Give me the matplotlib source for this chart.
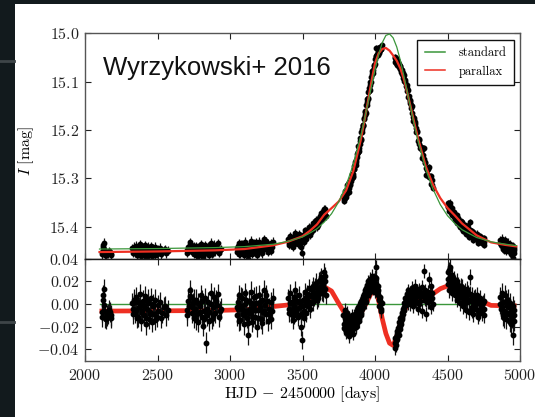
import numpy as np
import matplotlib
matplotlib.use('Agg')
import matplotlib.pyplot as plt
from matplotlib.patches import Rectangle
from matplotlib.lines import Line2D
from matplotlib.ticker import FuncFormatter, FixedLocator

plt.rcParams['font.family'] = 'serif'
plt.rcParams['font.serif'] = ['cmr10', 'DejaVu Serif']
plt.rcParams['mathtext.fontset'] = 'cm'
plt.rcParams['axes.unicode_minus'] = False

# model curves: HJD-2450000, I mag of the standard fit, parallax fit minus standard fit
t_model = [2100, 2500, 2900, 3100, 3300, 3400, 3500, 3550, 3600, 3650, 3700, 3750,
           3800, 3850, 3900, 3925, 3950, 3975, 4000, 4025, 4050, 4075, 4100, 4125,
           4150, 4175, 4200, 4225, 4250, 4275, 4300, 4350, 4400, 4450, 4500, 4550,
           4600, 4700, 4800, 4900, 4975]
mag_standard = [15.446, 15.445, 15.443, 15.441, 15.436, 15.430, 15.421, 15.413, 15.404,
                15.390, 15.373, 15.348, 15.315, 15.271, 15.214, 15.181, 15.146, 15.110,
                15.075, 15.044, 15.019, 15.004, 15.001, 15.009, 15.028, 15.056, 15.089,
                15.125, 15.160, 15.195, 15.226, 15.281, 15.322, 15.354, 15.377, 15.393,
                15.406, 15.422, 15.431, 15.436, 15.439]
res_parallax = [-0.0062, -0.0060, -0.0057, -0.0050, -0.0022, -0.0008, 0.0015, 0.0045,
                0.0090, 0.0152, 0.0115, 0.0005, -0.0100, -0.0140, -0.0085, -0.0030,
                0.0035, 0.0100, 0.0135, 0.0030, -0.0130, -0.0260, -0.0345, -0.0365,
                -0.0285, -0.0165, -0.0065, -0.0005, 0.0030, 0.0050, 0.0055, 0.0060,
                0.0090, 0.0135, 0.0160, 0.0165, 0.0130, 0.0045, -0.0012, -0.0015, -0.0015]

# observations by season: time and residual from the standard fit
t_s1 = [2118, 2122, 2126, 2130, 2134, 2140, 2150, 2160, 2172, 2182,
        2120, 2128, 2145, 2166, 2178]
r_s1 = [-0.011, 0.004, 0.008, 0.013, -0.006, -0.012, -0.010, -0.009, -0.007, -0.012,
        -0.007, -0.001, -0.013, -0.005, -0.010]
t_s2 = [2325, 2332, 2338, 2345, 2352, 2358, 2365, 2372, 2378, 2385, 2392, 2398, 2405,
        2412, 2418, 2425, 2432, 2440, 2447, 2455, 2462, 2470, 2478, 2486, 2495, 2505,
        2518, 2530, 2545, 2560, 2572,
        2328, 2341, 2355, 2368, 2381, 2395, 2408, 2422, 2436, 2451, 2466, 2482, 2500,
        2525, 2552]
r_s2 = [0.001, -0.004, 0.004, -0.008, 0.006, -0.012, 0.002, -0.003, 0.009, -0.015,
        -0.006, 0.003, -0.010, 0.007, -0.018, -0.004, 0.001, -0.013, -0.007, 0.005,
        -0.016, -0.002, -0.009, 0.004, -0.011, -0.006, 0.002, -0.008, -0.003, -0.010,
        -0.005,
        -0.009, 0.002, -0.005, -0.011, 0.000, -0.008, -0.002, -0.012, 0.004, -0.009,
        0.000, -0.014, -0.001, -0.012, -0.002]
t_s3 = [2702, 2710, 2718, 2725, 2732, 2738, 2745, 2752, 2760, 2768, 2775, 2782, 2790,
        2798, 2805, 2812, 2820, 2828, 2835, 2842, 2850, 2858, 2866, 2874, 2882, 2890,
        2898, 2908, 2918, 2928, 2938,
        2706, 2721, 2735, 2749, 2764, 2779, 2794, 2809, 2824, 2838, 2854, 2870, 2886,
        2903, 2923]
r_s3 = [-0.005, 0.003, -0.002, 0.012, 0.006, -0.008, 0.001, -0.012, -0.004, 0.004,
        -0.009, -0.016, -0.002, 0.008, -0.011, -0.019, -0.006, 0.005, -0.034, -0.010,
        0.002, -0.007, 0.010, -0.013, -0.003, 0.006, -0.008, -0.001, 0.009, -0.006,
        -0.004,
        -0.010, 0.007, -0.003, 0.004, -0.014, 0.001, -0.007, 0.003, -0.013, -0.004,
        -0.015, 0.000, -0.010, 0.003, -0.011]
t_s4 = [3048, 3053, 3058, 3064, 3070, 3076, 3082, 3088, 3094, 3100, 3106, 3112, 3118,
        3124, 3130, 3136, 3142, 3148, 3154, 3160, 3166, 3172, 3178, 3185, 3192, 3198,
        3205, 3212, 3219, 3226, 3233, 3240, 3247, 3255, 3263, 3272, 3281, 3290, 3298,
        3050, 3061, 3073, 3085, 3097, 3109, 3121, 3133, 3145, 3157, 3169, 3182, 3195,
        3209, 3223, 3237, 3251, 3268, 3286]
r_s4 = [-0.010, 0.002, -0.004, 0.008, -0.014, -0.002, 0.005, -0.009, -0.018, 0.000,
        0.010, -0.006, -0.012, -0.027, 0.003, -0.004, 0.011, -0.008, -0.016, -0.002,
        0.006, -0.011, 0.001, -0.020, -0.005, 0.008, -0.003, -0.013, 0.004, -0.007,
        0.012, -0.001, -0.009, 0.003, -0.015, -0.004, 0.002, -0.006, 0.005,
        -0.003, -0.015, 0.006, -0.004, -0.010, 0.004, -0.017, -0.008, 0.001, -0.011,
        -0.005, 0.007, -0.012, 0.002, -0.017, -0.006, 0.008, -0.009, -0.013]
t_s5 = [3402, 3408, 3414, 3420, 3426, 3432, 3438, 3444, 3450, 3456, 3462, 3468, 3474,
        3480, 3486, 3492, 3497, 3503, 3509, 3515, 3521, 3527, 3533, 3539, 3545, 3551,
        3557, 3563, 3569, 3575, 3581, 3587, 3593, 3599, 3605, 3611, 3617, 3623, 3629,
        3635, 3641, 3647, 3652, 3658, 3663,
        3405, 3417, 3429, 3441, 3453, 3465, 3477, 3489, 3500, 3512, 3524, 3536, 3548,
        3560, 3572, 3584, 3596, 3608, 3620, 3632, 3644, 3655]
r_s5 = [0.005, -0.004, 0.010, -0.009, 0.002, -0.014, 0.006, -0.002, 0.012, -0.007,
        0.003, -0.011, 0.008, -0.003, 0.001, -0.020, -0.032, 0.004, -0.006, 0.011,
        0.000, -0.008, 0.009, 0.003, 0.014, -0.004, 0.007, 0.012, 0.002, 0.016, 0.006,
        0.010, 0.019, 0.004, 0.013, 0.020, 0.009, 0.015, 0.024, 0.011, 0.018, 0.028,
        0.013, 0.020, 0.008,
        -0.008, 0.001, -0.005, -0.010, 0.003, -0.004, 0.002, -0.009, -0.002, -0.012,
        0.006, -0.002, 0.008, 0.001, 0.010, 0.015, 0.009, 0.005, 0.021, 0.016, 0.010,
        0.025]
t_s6 = [3782, 3786, 3790, 3794, 3798, 3802, 3806, 3810, 3814, 3818, 3822, 3826, 3830,
        3834, 3838, 3842, 3846, 3850, 3854, 3858, 3862, 3866, 3870, 3874, 3878, 3882,
        3886, 3890, 3894, 3898, 3902, 3906, 3910, 3914, 3918, 3922, 3926, 3930, 3934,
        3938, 3942, 3946, 3950, 3954, 3958, 3962, 3966, 3970, 3975, 3980, 3985, 3990,
        3995, 4000, 4005, 4010, 4014, 4018, 4022, 4026, 4030, 4035, 4040, 4045,
        3784, 3792, 3800, 3808, 3816, 3824, 3832, 3840, 3848, 3856, 3864, 3872, 3880,
        3888, 3896, 3904, 3912, 3920, 3928, 3936, 3944, 3952, 3960, 3968, 3978, 3988,
        3998, 4008, 4016, 4024, 4032, 4042]
r_s6 = [-0.010, -0.018, -0.005, -0.022, -0.013, -0.025, -0.016, -0.008, -0.020, -0.028,
        -0.012, -0.019, -0.024, -0.015, -0.010, -0.021, -0.017, -0.026, -0.013, -0.018,
        -0.009, -0.020, -0.014, -0.006, -0.016, -0.011, -0.003, -0.012, -0.007, 0.000,
        -0.008, 0.003, -0.004, 0.006, 0.001, 0.009, 0.004, 0.012, 0.007, 0.014, 0.010,
        0.017, 0.012, 0.020, 0.015, 0.011, 0.022, 0.016, 0.019, 0.025, 0.014, 0.021,
        0.017, 0.011, 0.023, 0.033, 0.015, 0.008, 0.012, 0.004, -0.002, 0.006, -0.004,
        0.001,
        -0.021, -0.012, -0.019, -0.023, -0.011, -0.026, -0.018, -0.014, -0.022, -0.010,
        -0.016, -0.019, -0.008, -0.015, -0.004, -0.010, 0.001, -0.003, 0.008, 0.002,
        0.013, 0.008, 0.018, 0.013, 0.021, 0.017, 0.024, 0.018, 0.010, 0.016, 0.003,
        -0.006]
t_s7 = [4135, 4139, 4143, 4147, 4151, 4155, 4159, 4163, 4167, 4171, 4175, 4179, 4183,
        4187, 4191, 4195, 4199, 4203, 4208, 4213, 4218, 4223, 4228, 4233, 4238, 4243,
        4248, 4253, 4258, 4263, 4268, 4273, 4278, 4283, 4288, 4294, 4300, 4306, 4312,
        4318, 4324, 4330, 4336, 4342, 4348, 4354, 4360, 4366, 4372, 4378, 4384, 4390,
        4396,
        4137, 4145, 4153, 4161, 4169, 4177, 4185, 4193, 4201, 4210, 4220, 4230, 4240,
        4250, 4260, 4270, 4280, 4291, 4303, 4315, 4327, 4339, 4351, 4363, 4375, 4387,
        4398]
r_s7 = [-0.034, -0.039, -0.029, -0.036, -0.026, -0.031, -0.021, -0.027, -0.016, -0.022,
        -0.012, -0.018, -0.008, -0.013, -0.004, -0.009, 0.001, -0.005, 0.005, -0.001,
        0.009, 0.003, 0.012, 0.006, 0.000, 0.010, 0.004, 0.014, 0.007, -0.002, 0.011,
        0.005, 0.016, 0.002, 0.009, -0.004, 0.008, 0.013, 0.003, 0.010, -0.006, 0.007,
        0.029, 0.004, 0.012, -0.009, 0.006, 0.002, 0.022, 0.008, -0.003, 0.010, 0.005,
        -0.030, -0.033, -0.024, -0.025, -0.019, -0.015, -0.011, -0.006, -0.003, 0.002,
        0.006, 0.001, 0.008, 0.011, 0.002, 0.008, 0.006, 0.012, 0.000, 0.007, 0.015,
        0.009, 0.003, 0.011, 0.004, 0.016, 0.000]
t_s8 = [4502, 4506, 4510, 4514, 4518, 4522, 4526, 4530, 4534, 4538, 4542, 4546, 4550,
        4555, 4560, 4565, 4570, 4575, 4580, 4585, 4590, 4595, 4600, 4605, 4610, 4615,
        4620, 4625, 4630, 4636, 4642, 4648, 4654, 4660, 4666, 4672, 4678, 4684, 4690,
        4696, 4702, 4708, 4714, 4720, 4726, 4732, 4738, 4744, 4750, 4755,
        4504, 4512, 4520, 4528, 4536, 4544, 4552, 4562, 4572, 4582, 4592, 4602, 4612,
        4622, 4633, 4645, 4657, 4669, 4681, 4693, 4705, 4717, 4729, 4741, 4752]
r_s8 = [0.018, 0.028, 0.012, 0.024, 0.033, 0.016, 0.021, 0.010, 0.026, 0.017, 0.013,
        0.022, 0.008, 0.019, 0.014, 0.004, 0.017, 0.009, 0.013, 0.001, 0.011, 0.006,
        0.015, -0.002, 0.009, 0.004, 0.012, -0.005, 0.007, 0.002, 0.010, -0.007, 0.024,
        0.003, -0.003, 0.008, -0.009, 0.001, 0.006, -0.004, 0.004, -0.011, 0.002,
        -0.006, 0.005, -0.002, -0.008, 0.001, -0.004, -0.010,
        0.022, 0.030, 0.020, 0.014, 0.020, 0.018, 0.015, 0.020, 0.011, 0.008, 0.016,
        0.008, 0.001, 0.006, 0.013, 0.004, 0.009, -0.005, 0.005, 0.000, 0.008, -0.008,
        0.000, -0.004, 0.003]
t_s9 = [4862, 4868, 4874, 4880, 4886, 4892, 4898, 4904, 4910, 4916, 4922, 4928, 4934,
        4940, 4946, 4951, 4956, 4960,
        4865, 4877, 4889, 4901, 4913, 4925, 4937, 4949, 4958]
r_s9 = [0.006, -0.004, 0.010, -0.010, 0.002, -0.006, 0.008, -0.013, -0.002, 0.004,
        -0.009, -0.016, 0.001, -0.007, -0.012, -0.027, -0.005, -0.015,
        0.000, -0.003, -0.012, 0.003, -0.008, -0.003, -0.018, -0.002, -0.010]
err_season = [0.009, 0.009, 0.009, 0.009, 0.008, 0.006, 0.006, 0.007, 0.009]

t_seasons = [t_s1, t_s2, t_s3, t_s4, t_s5, t_s6, t_s7, t_s8, t_s9]
r_seasons = [r_s1, r_s2, r_s3, r_s4, r_s5, r_s6, r_s7, r_s8, r_s9]

t_obs = np.concatenate([np.array(t, float) for t in t_seasons])
r_obs = np.concatenate([np.array(r, float) for r in r_seasons])
e_obs = np.concatenate([np.full(len(t), e) for t, e in zip(t_seasons, err_season)])

t_model = np.array(t_model, float)
mag_standard = np.array(mag_standard)
res_parallax = np.array(res_parallax)
mag_parallax = mag_standard - res_parallax
mag_obs = np.interp(t_obs, t_model, mag_standard) - r_obs

GREEN = '#3a963a'
RED = '#ee2f22'
SPINE = '#555555'

fig = plt.figure(figsize=(5.35, 4.17), dpi=100)
fig.patch.set_facecolor('#121a1d')
fig.add_artist(Rectangle((15 / 535, 0), 1, 1 - 4 / 417, transform=fig.transFigure,
                         facecolor='white', edgecolor='none', zorder=0))
for yy in [1 - 61 / 417, 1 - 322 / 417]:
    fig.add_artist(Line2D([0, 14 / 535], [yy, yy], transform=fig.transFigure,
                          color='#3e4548', lw=2.0, zorder=0))

ax1 = fig.add_axes([0.1589, 0.3796, 0.8131, 0.5401])
ax2 = fig.add_axes([0.1589, 0.1350, 0.8131, 0.2446], sharex=ax1)

# top panel: light curve
ax1.errorbar(t_obs, mag_obs, yerr=e_obs, fmt='o', ms=3.2, mfc='k', mec='k',
             ecolor='#111111', elinewidth=0.9, capsize=0, zorder=2)
ax1.plot(t_model, mag_standard, color=GREEN, lw=0.9, label='standard', zorder=4)
ax1.plot(t_model, mag_parallax, color=RED, lw=1.6, label='parallax', zorder=3)
ax1.set_xlim(2000, 5000)
ax1.set_ylim(15.466, 15.0)
ax1.yaxis.set_major_locator(FixedLocator([15.0, 15.1, 15.2, 15.3, 15.4]))
ax1.yaxis.set_major_formatter(FuncFormatter(lambda v, p: r'$%.1f$' % v))
ax1.tick_params(labelbottom=False)
ax1.set_ylabel(r'$I\ [\mathrm{mag}]$', fontsize=11.5)
ax1.yaxis.set_label_coords(-0.113, 0.48)

ax1.text(0.041, 0.816, 'Wyrzykowski+ 2016', transform=ax1.transAxes,
         family='Liberation Sans', fontsize=18.5, color='#111111', va='baseline')

leg = ax1.legend(loc='upper right', fontsize=9, frameon=True, fancybox=False,
                 framealpha=1, edgecolor='#111111', borderpad=0.6, labelspacing=0.5,
                 handlelength=1.6, handletextpad=1.1, borderaxespad=0.5)
leg.get_frame().set_linewidth(1.0)
for h in leg.get_lines():
    h.set_linewidth(1.1)

# bottom panel: residuals
ax2.plot(t_model, np.zeros(len(t_model)), color=GREEN, lw=1.0, zorder=1)
ax2.plot(t_model, res_parallax, color=RED, lw=3.4, zorder=2, solid_capstyle='butt')
ax2.errorbar(t_obs, r_obs, yerr=e_obs, fmt='o', ms=3.2, mfc='k', mec='k',
             ecolor='#111111', elinewidth=0.9, capsize=0, zorder=3)
ax2.set_ylim(-0.05, 0.04)
ax2.yaxis.set_major_locator(FixedLocator([-0.04, -0.02, 0.0, 0.02, 0.04]))
ax2.yaxis.set_major_formatter(FuncFormatter(lambda v, p: r'$%.2f$' % v))
ax2.xaxis.set_major_locator(FixedLocator([2000, 2500, 3000, 3500, 4000, 4500, 5000]))
ax2.xaxis.set_major_formatter(FuncFormatter(lambda v, p: r'$%d$' % v))
ax2.set_xlabel(r'$\mathrm{HJD}\,-\,2450000\ [\mathrm{days}]$', fontsize=11.5, labelpad=1)

for ax in (ax1, ax2):
    ax.tick_params(direction='in', length=4, width=0.8, top=True, right=True,
                   labelsize=11.5, colors='#222222', pad=4)
    ax.tick_params(axis='x', pad=5)
    for s in ax.spines.values():
        s.set_color(SPINE)
        s.set_linewidth(1.0)
ax1.spines['bottom'].set_color('#1a1a1a')
ax2.spines['top'].set_color('#1a1a1a')

fig.savefig('out.png', dpi=100, facecolor=fig.get_facecolor())
